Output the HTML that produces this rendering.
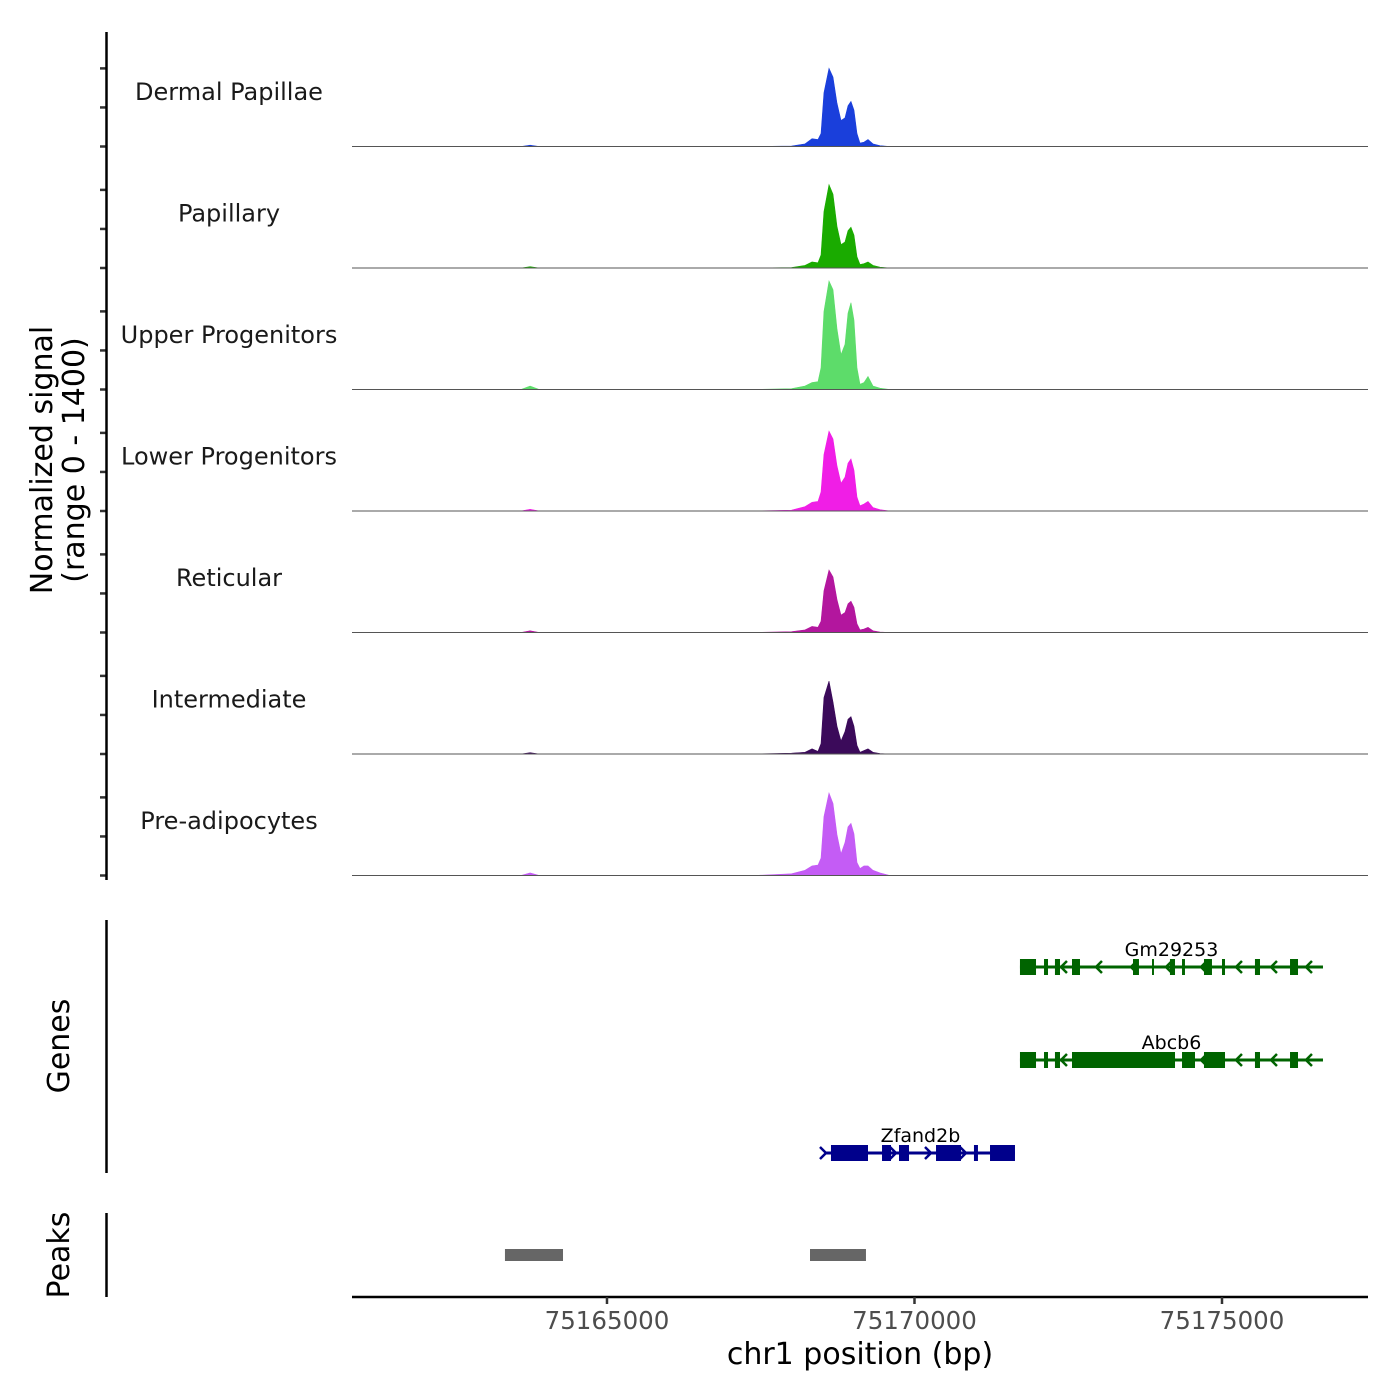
<!DOCTYPE html>
<html><head><meta charset="utf-8">
<style>
html,body{margin:0;padding:0;background:#fff;}
svg{display:block;font-family:"DejaVu Sans","Liberation Sans",sans-serif;}
</style></head>
<body>
<svg id="chart" width="1400" height="1400" viewBox="0 0 1400 1400">
<g id="tracks"></g>
<g id="genes"></g>
<g id="peaks"></g>
<g id="axes"></g>
</svg>
<script>
// ---- data ----
const trackNames = ["Dermal Papillae","Papillary","Upper Progenitors","Lower Progenitors","Reticular","Intermediate","Pre-adipocytes"];
const trackColors = ["#1a3fdb","#1aab00","#5ddc6a","#f01ee6","#b3169e","#3b0a5a","#c45cf5"];
const binPositions = [75160854,75162200,75163600,75163750,75163900,75165500,75167400,75168000,
 75168220,75168334,75168431,75168480,75168528,75168610,75168675,75168740,75168805,75168870,75168919,75168967,75169016,75169065,75169114,75169179,75169244,75169325,75169439,
 75169600,75170000,75172000,75174000,75177374];
const sigDermal       = [0,0,0,15,0,0,0,5, 30,90,80,150,620,900,800,500,300,330,470,520,420,150,40,50,80,30,10, 0,0,0,0,0];
const sigPapillary    = [0,0,0,15,0,0,0,5, 30,70,60,150,650,960,850,480,270,300,430,470,380,130,40,50,70,30,10, 0,0,0,0,0];
const sigUpper        = [0,0,0,40,0,0,0,10, 40,80,90,250,900,1250,1150,700,400,520,880,1000,800,250,60,80,150,40,15, 0,0,0,0,0];
const sigLower        = [0,0,0,20,0,0,0,10, 50,100,110,220,650,920,830,520,320,390,550,600,470,160,60,80,110,40,15, 0,0,0,0,0];
const sigReticular    = [0,0,0,20,0,0,0,10, 30,70,60,130,480,720,640,380,200,230,330,360,290,100,30,40,60,20,5, 0,0,0,0,0];
const sigIntermediate = [0,0,0,15,0,0,0,10, 20,60,30,120,650,840,600,320,150,260,400,430,320,100,20,40,60,20,5, 0,0,0,0,0];
const sigPreadipo     = [0,0,0,30,0,0,0,20, 60,110,120,200,680,950,830,470,250,380,560,600,480,150,80,110,110,60,30, 0,0,0,0,0];
const trackSignals = [sigDermal,sigPapillary,sigUpper,sigLower,sigReticular,sigIntermediate,sigPreadipo];
const xTicks = [75165000,75170000,75175000];
const xTickLabels = ["75165000","75170000","75175000"];
const yTicksSignal = [0,450,900];
const geneNames = ["Gm29253","Abcb6","Zfand2b"];
const geneStarts = [75171715,75171715,75168561];
const geneEnds = [75176642,75176642,75171634];
const geneStrands = ["-","-","+"];
const geneColors = ["#006400","#006400","#00008b"];
const geneExons = [
 [[75171715,75171976],[75172106,75172171],[75172284,75172366],[75172561,75172691],[75173553,75173650],[75173862,75173894],[75174154,75174236],[75174350,75174398],[75174707,75174837],[75175000,75175049],[75175536,75175618],[75176106,75176236]],
 [[75171715,75171976],[75172106,75172171],[75172284,75172366],[75172561,75174236],[75174350,75174561],[75174707,75175049],[75175536,75175618],[75176106,75176236]],
 [[75168642,75169244],[75169472,75169618],[75169748,75169911],[75170350,75170756],[75170967,75171032],[75171228,75171634]]
];
const peakStarts = [75163341,75168301];
const peakEnds = [75164285,75169211];
// ---- scales ----
const X0=352,X1=1368,DMIN=75160854,DMAX=75177374;
const xs = bp => X0+(bp-DMIN)/(DMAX-DMIN)*(X1-X0);
const TRACK_TOP=25, TRACK_H=121.5, YMAX=1400;
const ys = (i,v) => TRACK_TOP+TRACK_H*(i+1) - v/YMAX*TRACK_H;
const NS="http://www.w3.org/2000/svg";
function mk(tag,attrs,parent){const e=document.createElementNS(NS,tag);for(const k in attrs)e.setAttribute(k,attrs[k]);parent.appendChild(e);return e;}
const gT=document.getElementById('tracks'),gG=document.getElementById('genes'),gP=document.getElementById('peaks'),gA=document.getElementById('axes');
// ---- tracks ----
trackNames.forEach((name,i)=>{
  const base=ys(i,0);
  let d=`M${xs(binPositions[0])},${base}`;
  binPositions.forEach((p,j)=>{d+=`L${xs(p).toFixed(2)},${ys(i,trackSignals[i][j]).toFixed(2)}`;});
  d+=`L${xs(binPositions[binPositions.length-1])},${base}Z`;
  const a=mk('path',{d:d,fill:trackColors[i],stroke:trackColors[i],'stroke-width':0.6},gT);
  
  
  const bl=mk('line',{x1:X0,x2:X1,y1:base,y2:base,stroke:'#555',"stroke-width":1},gT);
  
  
  const t=mk('text',{x:229,y:TRACK_TOP+TRACK_H*i+75,'text-anchor':'middle','font-size':24,fill:'#1a1a1a'},gT);
  t.textContent=name;
  
  
  yTicksSignal.forEach(v=>{
    const tk=mk('line',{x1:100,x2:106,y1:ys(i,v),y2:ys(i,v),stroke:'#333','stroke-width':2.5},gA);
    
    
  });
});
// ---- genes ----
const geneY=[967,1060,1153];
geneNames.forEach((g,i)=>{
  const y=geneY[i],c=geneColors[i];
  const ln=mk('line',{x1:xs(geneStarts[i]),x2:xs(geneEnds[i]),y1:y,y2:y,stroke:c,'stroke-width':3},gG);
  
  
  const n=Math.floor((xs(geneEnds[i])-xs(geneStarts[i]))/35);
  for(let k=0;k<=n;k++){
    const ax=xs(geneStarts[i])+k*35+ (geneStrands[i]=="-"?6:0);
    const dd=geneStrands[i]=="-"?`M${ax+6},${y-6}L${ax},${y}L${ax+6},${y+6}`:`M${ax-6},${y-6}L${ax},${y}L${ax-6},${y+6}`;
    const ar=mk('path',{d:dd,fill:'none',stroke:c,'stroke-width':2.5},gG);
    
    
  }
  geneExons[i].forEach(e=>{
    const r=mk('rect',{x:xs(e[0]),y:y-8,width:xs(e[1])-xs(e[0]),height:16,fill:c},gG);
    
    
  });
  const t=mk('text',{x:(xs(geneStarts[i])+xs(geneEnds[i]))/2,y:y-11,'text-anchor':'middle','font-size':19,fill:'#000'},gG);
  t.textContent=g;
  
  
});
// ---- peaks ----
peakStarts.forEach((s,i)=>{
  const r=mk('rect',{x:xs(s),y:1249,width:xs(peakEnds[i])-xs(s),height:12,fill:'#666'},gP);
  
  
});
// ---- axes ----
[[32,880],[920,1173],[1213,1297]].forEach(s=>{
  const l=mk('line',{x1:106.5,x2:106.5,y1:s[0],y2:s[1],stroke:'#000','stroke-width':2.5},gA);
  
  
});
const xl=mk('line',{x1:X0,x2:X1,y1:1297,y2:1297,stroke:'#000','stroke-width':2.5},gA);


xTicks.forEach((v,i)=>{
  const tk=mk('line',{x1:xs(v),x2:xs(v),y1:1297,y2:1304,stroke:'#333','stroke-width':2.5},gA);
  
  
  const t=mk('text',{x:xs(v),y:1329,'text-anchor':'middle','font-size':24.5,fill:'#4d4d4d'},gA);
  t.textContent=xTickLabels[i];
  
  
});
const xt=mk('text',{x:860,y:1364,'text-anchor':'middle','font-size':30,fill:'#000'},gA);
xt.textContent='chr1 position (bp)';


const yt=mk('text',{transform:'translate(52,460) rotate(-90)','text-anchor':'middle','font-size':30,fill:'#000'},gA);
yt.textContent='Normalized signal';


const yt2=mk('text',{transform:'translate(84,460) rotate(-90)','text-anchor':'middle','font-size':30,fill:'#000'},gA);
yt2.textContent='(range 0 - 1400)';


const gt=mk('text',{transform:'translate(69,1046) rotate(-90)','text-anchor':'middle','font-size':30,fill:'#000'},gA);
gt.textContent='Genes';


const pt=mk('text',{transform:'translate(69,1255) rotate(-90)','text-anchor':'middle','font-size':30,fill:'#000'},gA);
pt.textContent='Peaks';


</script>
</body></html>
